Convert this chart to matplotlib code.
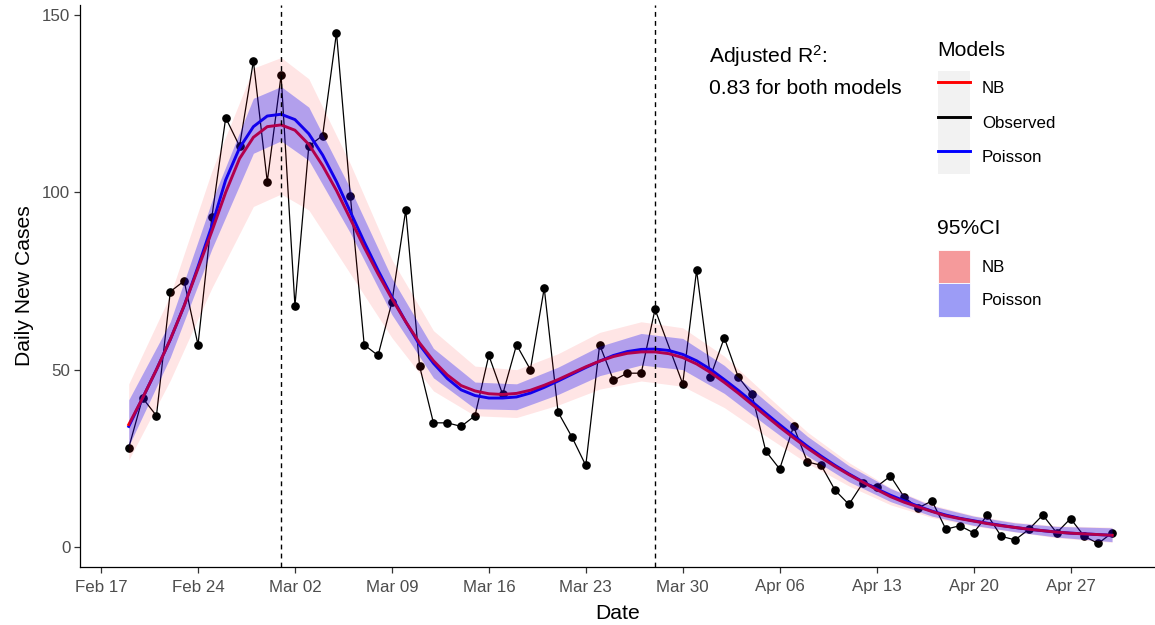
import numpy as np
import pandas as pd
import matplotlib
matplotlib.use("Agg")
import matplotlib.pyplot as plt
import matplotlib.dates as mdates
from matplotlib.lines import Line2D
from matplotlib.patches import Patch

plt.rcParams['font.family'] = ['Liberation Sans', 'DejaVu Sans']
plt.rcParams['mathtext.fontset'] = 'custom'
plt.rcParams['mathtext.rm'] = 'Liberation Sans'

# observed daily new cases (no record for Mar 29)
obs_dates = pd.date_range('2020-02-19', '2020-04-30').drop(pd.Timestamp('2020-03-29'))
obs_cases = [28, 42, 37, 72, 75, 57, 93, 121, 113, 137, 103, 133, 68, 113, 116, 145,
             99, 57, 54, 69, 95, 51, 35, 35, 34, 37, 54, 43, 57, 50, 73, 38, 31, 23,
             57, 47, 49, 49, 67, 46, 78, 48, 59, 48, 43, 27, 22, 34, 24, 23, 16, 12,
             18, 17, 20, 14, 11, 13, 5, 6, 4, 9, 3, 2, 5, 9, 4, 8, 3, 1, 4]

# fitted curves, one value per day Feb 19 .. Apr 30
fit_dates = pd.date_range('2020-02-19', '2020-04-30')
nb_fit = [34.5, 42, 50, 58.5, 68, 78.5, 89, 100, 109.5, 115.5, 118.5, 119, 117.5, 113.5,
          107.5, 100.5, 92.5, 84.5, 77, 70, 63.5, 57.5, 52.5, 48.5, 45.5, 44, 43.2, 43,
          43.3, 44.2, 45.6, 47.2, 49, 50.8, 52.4, 53.7, 54.6, 55, 55, 54.5, 53.4, 51.6,
          49.2, 46.4, 43.4, 40.2, 37, 33.8, 30.8, 27.9, 25.2, 22.7, 20.4, 18.3, 16.2,
          14.2, 12.6, 11.3, 10.0, 8.8, 8.0, 7.3, 6.6, 6.0, 5.5, 5.0, 4.6, 4.2, 3.9,
          3.7, 3.5, 3.3]
pois_fit = [34, 42, 50, 58.5, 68, 79, 90.5, 103.5, 112.5, 118.5, 121.5, 122, 120.5, 116.5,
            110.5, 103, 94.5, 86, 78, 70.5, 63.5, 57, 51.8, 47.5, 44.3, 42.7, 42, 42,
            42.3, 43.4, 45, 46.8, 48.7, 50.6, 52.4, 54, 55.1, 55.7, 55.8, 55.4, 54.3, 52.5,
            50.1, 47.2, 44.2, 41, 37.7, 34.5, 31.4, 28.4, 25.6, 23, 20.6, 18.4, 16.4,
            14.6, 13, 11.5, 10.1, 9.0, 8.1, 7.4, 6.7, 6.1, 5.5, 5.0, 4.6, 4.2, 3.9,
            3.7, 3.5, 3.3]

# 95% CI bands, read at selected days
band_dates = pd.to_datetime(['2020-02-19', '2020-02-22', '2020-02-25', '2020-02-28',
                             '2020-03-01', '2020-03-03', '2020-03-06', '2020-03-09',
                             '2020-03-12', '2020-03-15', '2020-03-18', '2020-03-21',
                             '2020-03-24', '2020-03-27', '2020-03-30', '2020-04-02',
                             '2020-04-05', '2020-04-08', '2020-04-11', '2020-04-14',
                             '2020-04-17', '2020-04-20', '2020-04-23', '2020-04-26',
                             '2020-04-30'])
nb_lo = [24.5, 47, 73, 96, 99.5, 95, 77, 59, 44, 37, 36.5, 40, 44.5, 46.8, 45.3, 39.3,
         31.3, 23.6, 17.2, 11.9, 8.3, 5.9, 4.2, 2.6, 1.3]
nb_hi = [46, 71, 106, 135, 138, 132, 108, 81, 61, 51, 50, 54.5, 60.5, 63.5, 61.8, 53.8,
         43, 32.4, 23.8, 16.7, 11.9, 8.9, 7.0, 6.0, 5.6]
pois_lo = [28.5, 53.5, 84, 111, 114.5, 109, 88.5, 65.5, 47.7, 39, 38.7, 43, 48.3, 51.3,
           50, 43.3, 34.4, 25.7, 18.4, 12.8, 8.7, 6.1, 4.3, 2.8, 1.5]
pois_hi = [41.5, 63.5, 97.5, 126.5, 129.8, 124, 101, 75.8, 56, 46.5, 46, 50.7, 56.6, 60.2,
           58.8, 51.2, 41.1, 31.2, 22.9, 16.5, 11.6, 8.7, 6.8, 5.8, 5.4]

cutoff_dates = pd.to_datetime(['2020-03-01', '2020-03-28'])

W, H = 1155, 625
fig = plt.figure(figsize=(W / 100, H / 100), dpi=100)
ax = fig.add_axes([80 / W, 58 / H, 1075 / W, 562 / H])

ax.plot(obs_dates, obs_cases, color='black', lw=0.9, marker='o', ms=5.2, zorder=2)
ax.plot(fit_dates, pois_fit, color='blue', lw=2.1, zorder=3)
ax.plot(fit_dates, nb_fit, color='red', lw=2.1, zorder=3)
ax.fill_between(band_dates, nb_lo, nb_hi, color='red', alpha=0.1, lw=0, zorder=4)
ax.fill_between(band_dates, pois_lo, pois_hi, color='blue', alpha=0.3, lw=0, zorder=5)

for d in cutoff_dates:
    ax.axvline(d, color='black', ls=(0, (3.5, 3)), lw=1.0, zorder=6)

feb17 = pd.Timestamp('2020-02-17')
ax.set_xlim(feb17 - pd.Timedelta(days=1.52), feb17 + pd.Timedelta(days=76.1))
ax.set_ylim(-5.64, 152.8)
ax.set_xticks(pd.date_range('2020-02-17', '2020-04-27', freq='7D'))
ax.xaxis.set_major_formatter(mdates.DateFormatter('%b %d'))
ax.set_yticks([0, 50, 100, 150])

for s in ['top', 'right']:
    ax.spines[s].set_visible(False)
for s in ['left', 'bottom']:
    ax.spines[s].set_linewidth(0.9)
ax.tick_params(labelsize=12.2, labelcolor='#4D4D4D', color='#333333', length=4, width=0.9)
ax.tick_params(axis='x', pad=5)
ax.tick_params(axis='y', pad=3)
ax.set_xlabel('Date', fontsize=15.2, labelpad=7)
ax.set_ylabel('Daily New Cases', fontsize=15.2, labelpad=6)

fig.text(709 / W, 1 - 56 / H, 'Adjusted R$\\mathregular{^2}$:', fontsize=15.2, va='center')
fig.text(709 / W, 1 - 88 / H, '0.83 for both models', fontsize=15.2, va='center')

# legend titles
fig.text(937 / W, 1 - 50 / H, 'Models', fontsize=15.2, va='center')
fig.text(937 / W, 1 - 228 / H, '95%CI', fontsize=15.2, va='center')

key_bg = '#F2F2F2'
model_handles = [(Patch(facecolor=key_bg, edgecolor='none'), Line2D([], [], color='red', lw=2.1)),
                 (Patch(facecolor=key_bg, edgecolor='none'), Line2D([], [], color='black', lw=2.1)),
                 (Patch(facecolor=key_bg, edgecolor='none'), Line2D([], [], color='blue', lw=2.1))]
fig.legend(model_handles, ['NB', 'Observed', 'Poisson'],
           loc='upper left', bbox_to_anchor=(938 / W, 1 - 71 / H),
           frameon=False, fontsize=12.2,
           handlelength=1.9, handleheight=2.75, labelspacing=0, handletextpad=0.7,
           borderpad=0, borderaxespad=0)

ci_handles = [Patch(facecolor='#F59A9B', edgecolor='white', lw=0.6),
              Patch(facecolor='#9C9CF6', edgecolor='white', lw=0.6)]
fig.legend(ci_handles, ['NB', 'Poisson'],
           loc='upper left', bbox_to_anchor=(938 / W, 1 - 250 / H),
           frameon=False, fontsize=12.2,
           handlelength=1.9, handleheight=2.66, labelspacing=0, handletextpad=0.7,
           borderpad=0, borderaxespad=0)

fig.savefig('out.png', dpi=100)
